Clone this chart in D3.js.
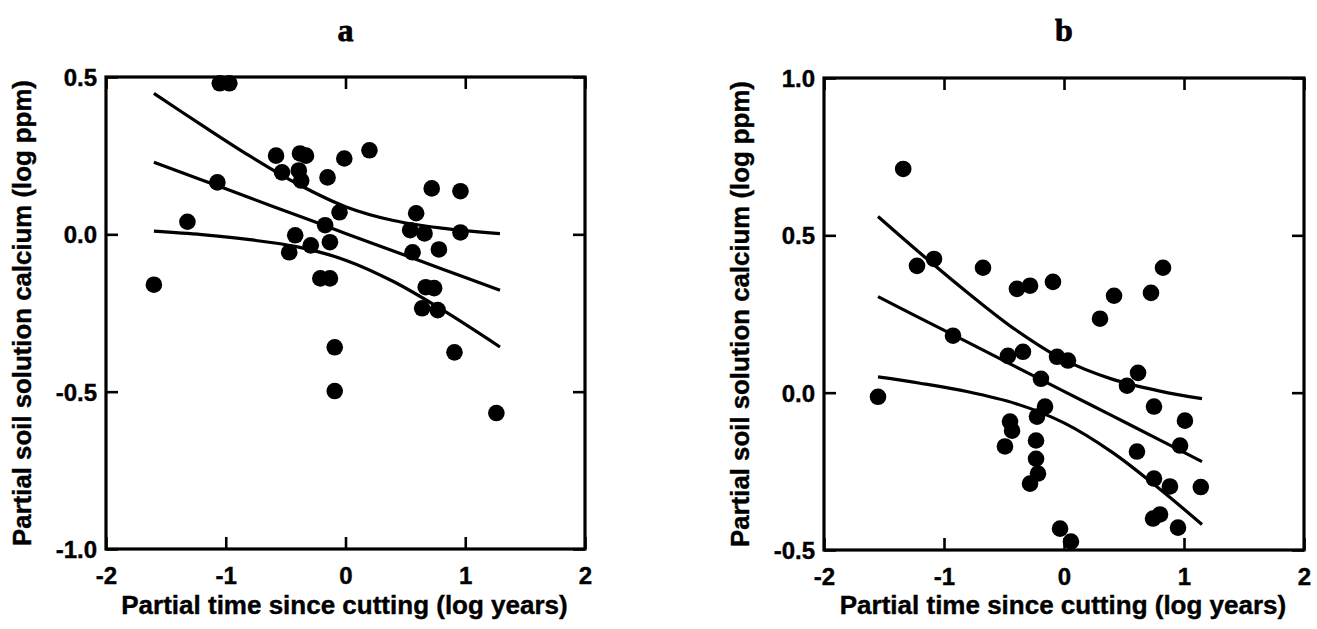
<!DOCTYPE html>
<html><head><meta charset="utf-8">
<script src="https://cdn.jsdelivr.net/npm/d3@7"></script>
<style>body{margin:0;background:#fff}svg{display:block}</style>
</head><body><svg id="c" width="1317" height="629"></svg>
<script>
// ---------- data ----------
const xTicks = [-2, -1, 0, 1, 2];
const xTickLabels = ["-2", "-1", "0", "1", "2"];
const yTicksA = [0.5, 0.0, -0.5, -1.0];
const yTickLabelsA = ["0.5", "0.0", "-0.5", "-1.0"];
const yTicksB = [1.0, 0.5, 0.0, -0.5];
const yTickLabelsB = ["1.0", "0.5", "0.0", "-0.5"];

const ax = [-1.60,-1.32,-1.07,-1.05,-0.97,-0.58,-0.38,-0.33,-0.53,-0.39,-0.37,-0.15,-0.01,0.20,-0.05,-0.17,-0.13,-0.42,-0.29,-0.47,-0.21,-0.13,-0.09,-0.09,0.72,0.96,0.59,0.54,0.66,0.96,0.56,0.78,0.67,0.74,0.64,0.77,0.91,1.26];
const ay = [-0.16,0.04,0.165,0.48,0.48,0.25,0.257,0.25,0.197,0.203,0.171,0.181,0.241,0.267,0.07,0.029,-0.025,-0.003,-0.035,-0.057,-0.14,-0.14,-0.359,-0.498,0.146,0.137,0.067,0.013,0.003,0.006,-0.057,-0.048,-0.168,-0.171,-0.235,-0.241,-0.375,-0.568];

const bx = [-1.55,-1.34,-1.225,-1.083,-0.925,-0.675,-0.392,-0.283,-0.092,-0.467,-0.342,-0.058,0.033,-0.192,-0.158,-0.225,-0.45,-0.433,-0.492,-0.233,-0.233,-0.217,-0.283,-0.033,0.058,0.30,0.417,0.725,0.825,0.617,0.525,0.75,1.008,0.967,0.608,0.75,0.883,1.14,0.80,0.742,0.95];
const by = [-0.013,0.711,0.403,0.425,0.181,0.397,0.33,0.34,0.352,0.117,0.13,0.114,0.102,0.044,-0.044,-0.076,-0.092,-0.121,-0.171,-0.152,-0.21,-0.257,-0.289,-0.432,-0.473,0.235,0.308,0.317,0.397,0.063,0.022,-0.044,-0.089,-0.168,-0.187,-0.273,-0.298,-0.30,-0.387,-0.40,-0.429];

// fitted line and confidence band
const fitXA = [-1.6,-1.2,-0.8,-0.4,0,0.4,0.8,1.29];
const fitMidA = [0.229,0.173,0.116,0.060,0.003,-0.053,-0.109,-0.178];
const fitUpA = [0.448,0.347,0.249,0.160,0.088,0.044,0.020,0.002];
const fitLoA = [0.010,-0.001,-0.017,-0.040,-0.082,-0.150,-0.238,-0.358];

const fitXB = [-1.55,-1.2,-0.8,-0.4,0,0.4,0.8,1.15];
const fitMidB = [0.305,0.237,0.160,0.082,0.004,-0.073,-0.151,-0.219];
const fitUpB = [0.560,0.444,0.317,0.199,0.104,0.043,0.005,-0.019];
const fitLoB = [0.050,0.030,0.003,-0.035,-0.096,-0.189,-0.307,-0.419];

const xTitle = "Partial time since cutting (log years)";
const yTitle = "Partial soil solution calcium (log ppm)";

// ---------- drawing ----------
const svg = d3.select("#c");
const FONT = "'Liberation Sans', Arial, sans-serif";

function panel(o) {
  const x = d3.scaleLinear().domain([-2, 2]).range([o.left, o.right]);
  const y = d3.scaleLinear().domain(o.ydom).range([o.bottom, o.top]);
  const g = svg.append("g");
  const tl = 12;

  // points
  g.selectAll("circle").data(o.px.map((v, i) => [v, o.py[i]])).join("circle")
    .attr("cx", d => x(d[0])).attr("cy", d => y(d[1])).attr("r", 8.3).attr("fill", "#000");

  // curves
  const line = d3.line().x(d => x(d[0])).y(d => y(d[1])).curve(d3.curveCatmullRom.alpha(0.5));
  [o.mid, o.up, o.lo].forEach(arr => {
    g.append("path").datum(o.fx.map((v, i) => [v, arr[i]])).attr("d", line)
      .attr("fill", "none").attr("stroke", "#000").attr("stroke-width", 3.2);
  });

  // axes (inward ticks on all four sides)
  const axB = d3.axisBottom(x).tickValues(xTicks).tickSize(-tl).tickFormat((d, i) => xTickLabels[i]).tickPadding(18);
  const axT = d3.axisTop(x).tickValues(xTicks).tickSize(-tl).tickFormat("");
  const axL = d3.axisLeft(y).tickValues(o.yticks).tickSize(-tl).tickFormat((d, i) => o.ylabels[i]).tickPadding(9);
  const axR = d3.axisRight(y).tickValues(o.yticks).tickSize(-tl).tickFormat("");
  const gb = g.append("g").attr("transform", `translate(0,${o.bottom})`).call(axB);
  const gt = g.append("g").attr("transform", `translate(0,${o.top})`).call(axT);
  const gl = g.append("g").attr("transform", `translate(${o.left},0)`).call(axL);
  const gr = g.append("g").attr("transform", `translate(${o.right},0)`).call(axR);
  [gb, gt, gl, gr].forEach(a => {
    a.select(".domain").remove();
    a.selectAll(".tick line").attr("stroke", "#000").attr("stroke-width", 2.6);
    a.selectAll("text").attr("fill", "#000").style("font-family", FONT)
      .style("font-weight", "bold").style("font-size", "24px")
      .attr("stroke", "#000").attr("stroke-width", 0.4);
  });
  gl.selectAll("text").attr("dy", "0.36em");

  // frame
  g.append("rect").attr("x", o.left).attr("y", o.top).attr("width", o.right - o.left)
    .attr("height", o.bottom - o.top).attr("fill", "none").attr("stroke", "#000").attr("stroke-width", 3.2);

  // titles
  g.append("text").attr("x", (o.left + o.right) / 2).attr("y", 41).attr("text-anchor", "middle")
    .style("font-family", "'Liberation Serif', 'Times New Roman', serif").style("font-weight", "bold")
    .attr("stroke", "#000").attr("stroke-width", 0.8)
    .style("font-size", "32px").text(o.title);
  g.append("text").attr("x", (o.left + o.right) / 2 - 1).attr("y", 614).attr("text-anchor", "middle")
    .attr("stroke", "#000").attr("stroke-width", 0.4)
    .style("font-family", FONT).style("font-weight", "bold").style("font-size", "26px").text(xTitle);
  g.append("text").attr("transform", `translate(${o.left - 75},${(o.top + o.bottom) / 2}) rotate(-90)`)
    .attr("text-anchor", "middle")
    .attr("stroke", "#000").attr("stroke-width", 0.4)
    .style("font-family", FONT).style("font-weight", "bold").style("font-size", "25.8px").text(yTitle);
}

panel({left: 106, right: 585, top: 77, bottom: 549, ydom: [-1.0, 0.5],
  yticks: yTicksA, ylabels: yTickLabelsA, px: ax, py: ay,
  fx: fitXA, mid: fitMidA, up: fitUpA, lo: fitLoA, title: "a"});
panel({left: 824, right: 1304, top: 78, bottom: 550, ydom: [-0.5, 1.0],
  yticks: yTicksB, ylabels: yTickLabelsB, px: bx, py: by,
  fx: fitXB, mid: fitMidB, up: fitUpB, lo: fitLoB, title: "b"});
</script></body></html>
